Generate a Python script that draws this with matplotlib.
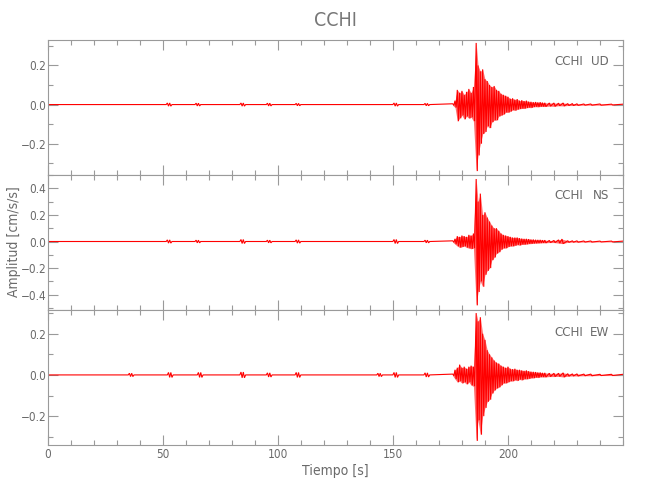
import matplotlib
matplotlib.use("Agg")
import matplotlib.pyplot as plt
from matplotlib.ticker import MultipleLocator, FuncFormatter
import numpy as np

plt.rcParams['font.family'] = ['DejaVu Sans']
plt.rcParams['font.stretch'] = 'condensed'
plt.rcParams['font.weight'] = 'light'

# ---------------- data ----------------
station = "CCHI"
components = ["UD", "NS", "EW"]
x_ticks = [0, 50, 100, 150, 200]
y_limits = [(-0.36, 0.33), (-0.515, 0.50), (-0.34, 0.315)]

# strong-motion part: time [s], positive peak, negative peak
ud_time = [176, 177, 178, 179, 180, 181, 182, 183, 184, 185, 186.2, 187, 188, 189, 190,
           191, 192, 193, 194, 195, 196, 197, 198, 199, 200, 201, 202, 203, 204, 205,
           206, 207, 208, 209, 210, 211, 212, 213, 214, 215, 216, 218, 220, 222, 224,
           226, 228, 230, 233, 236, 240, 245, 250]
ud_pos = [0.004, 0.02, 0.075, 0.06, 0.07, 0.05, 0.065, 0.08, 0.06, 0.09, 0.315, 0.2, 0.17, 0.18, 0.13,
          0.12, 0.1, 0.09, 0.095, 0.075, 0.07, 0.055, 0.05, 0.045, 0.04, 0.03, 0.032, 0.025, 0.028, 0.02,
          0.022, 0.018, 0.02, 0.015, 0.014, 0.012, 0.013, 0.011, 0.012, 0.01, 0.009, 0.008, 0.008, 0.007, 0.008,
          0.005, 0.005, 0.004, 0.003, 0.003, 0.003, 0.002, 0.002]
ud_neg = [-0.004, -0.015, -0.085, -0.07, -0.055, -0.075, -0.06, -0.07, -0.065, -0.085, -0.34, -0.26, -0.2, -0.15, -0.14,
          -0.11, -0.12, -0.09, -0.08, -0.08, -0.06, -0.055, -0.05, -0.04, -0.04, -0.035, -0.028, -0.03, -0.025, -0.022,
          -0.02, -0.02, -0.017, -0.015, -0.016, -0.012, -0.011, -0.012, -0.01, -0.01, -0.01, -0.008, -0.009, -0.006, -0.007,
          -0.005, -0.005, -0.004, -0.003, -0.003, -0.003, -0.002, -0.002]

ns_time = [176, 177, 178, 179, 180, 181, 182, 183, 184, 185, 186.2, 187, 188, 189, 190,
           191, 192, 193, 194, 195, 196, 197, 198, 199, 200, 201, 202, 203, 204, 205,
           206, 207, 208, 209, 210, 211, 212, 213, 214, 215, 216, 218, 220, 222, 223.5,
           226, 228, 230, 233, 236, 240, 245, 250]
ns_pos = [0.005, 0.02, 0.04, 0.035, 0.045, 0.04, 0.035, 0.05, 0.045, 0.06, 0.47, 0.3, 0.36, 0.2, 0.22,
          0.18, 0.15, 0.12, 0.1, 0.1, 0.08, 0.06, 0.05, 0.045, 0.04, 0.035, 0.03, 0.03, 0.03, 0.025,
          0.022, 0.02, 0.02, 0.018, 0.015, 0.015, 0.013, 0.012, 0.012, 0.01, 0.01, 0.008, 0.008, 0.012, 0.018,
          0.006, 0.005, 0.005, 0.004, 0.004, 0.003, 0.003, 0.003]
ns_neg = [-0.005, -0.02, -0.035, -0.045, -0.04, -0.035, -0.045, -0.05, -0.055, -0.05, -0.48, -0.38, -0.3, -0.34, -0.25,
          -0.22, -0.2, -0.14, -0.12, -0.09, -0.08, -0.06, -0.05, -0.05, -0.04, -0.035, -0.035, -0.03, -0.025, -0.028,
          -0.022, -0.022, -0.02, -0.017, -0.016, -0.014, -0.013, -0.012, -0.011, -0.01, -0.01, -0.008, -0.008, -0.012, -0.016,
          -0.006, -0.005, -0.005, -0.004, -0.004, -0.003, -0.003, -0.003]

ew_time = [176, 177, 178, 179, 180, 181, 182, 183, 184, 185, 186.2, 187, 188, 189, 190,
           191, 192, 193, 194, 195, 196, 197, 198, 199, 200, 201, 202, 203, 204, 205,
           206, 207, 208, 209, 210, 211, 212, 213, 214, 215, 216, 218, 220, 222, 224,
           226, 228, 230, 233, 236, 240, 245, 250]
ew_pos = [0.004, 0.025, 0.035, 0.05, 0.035, 0.04, 0.03, 0.04, 0.045, 0.04, 0.30, 0.26, 0.28, 0.2, 0.17,
          0.12, 0.1, 0.085, 0.07, 0.06, 0.055, 0.045, 0.04, 0.035, 0.04, 0.03, 0.028, 0.03, 0.025, 0.025,
          0.022, 0.02, 0.022, 0.018, 0.016, 0.015, 0.014, 0.012, 0.012, 0.01, 0.01, 0.008, 0.008, 0.008, 0.01,
          0.006, 0.005, 0.005, 0.004, 0.004, 0.003, 0.003, 0.003]
ew_neg = [-0.004, -0.02, -0.035, -0.03, -0.04, -0.035, -0.045, -0.035, -0.05, -0.055, -0.32, -0.22, -0.29, -0.2, -0.16,
          -0.13, -0.12, -0.09, -0.075, -0.065, -0.06, -0.05, -0.04, -0.04, -0.035, -0.03, -0.03, -0.025, -0.028, -0.022,
          -0.025, -0.02, -0.02, -0.018, -0.015, -0.015, -0.012, -0.013, -0.01, -0.01, -0.01, -0.008, -0.008, -0.007, -0.01,
          -0.006, -0.005, -0.005, -0.004, -0.004, -0.003, -0.003, -0.003]

# small events in the quiet part: time [s], amplitude
ud_quiet_t = [52.5, 65, 84.5, 96, 108.5, 151, 164.5]
ud_quiet_a = [0.008, 0.007, 0.008, 0.007, 0.006, 0.008, 0.006]
ns_quiet_t = [52.5, 65, 84.5, 96, 108.5, 151, 164.5]
ns_quiet_a = [0.012, 0.01, 0.015, 0.01, 0.012, 0.015, 0.01]
ew_quiet_t = [36, 53, 66, 84.5, 96, 108.5, 144, 151, 164.5]
ew_quiet_a = [0.008, 0.012, 0.012, 0.014, 0.01, 0.012, 0.008, 0.012, 0.01]

series = [
    (ud_time, ud_pos, ud_neg, ud_quiet_t, ud_quiet_a),
    (ns_time, ns_pos, ns_neg, ns_quiet_t, ns_quiet_a),
    (ew_time, ew_pos, ew_neg, ew_quiet_t, ew_quiet_a),
]


def build_trace(t_list, pos, neg, qt, qa):
    ts, vs = [0.0], [0.0]
    for t, a in zip(qt, qa):
        ts += [t - 1.0, t - 0.5, t, t + 0.5, t + 1.0, t + 1.5]
        vs += [0.0, a, -a, a, -a, 0.0]
    for t, p, n in zip(t_list, pos, neg):
        ts += [t, t + 0.5]
        vs += [p, n]
    return np.array(ts), np.array(vs)


def fmt(v, _):
    s = '%.1f' % v
    if s == '-0.0':
        s = '0.0'
    return s.replace('-', '\u2212')


# ---------------- figure ----------------
W, H = 650, 500
fig = plt.figure(figsize=(W / 100, H / 100), dpi=100)

axis_col = '#9a9a9a'
text_col = '#6a6a6a'
left = 47.7 / W
width = (623 - 47.7) / W
tops = [40, 175, 310]
ph = 135
label_y = [0.84, 0.848, 0.837]

for i, (comp, dat, yl) in enumerate(zip(components, series, y_limits)):
    bottom = 1 - (tops[i] + ph) / H
    ax = fig.add_axes([left, bottom, width, ph / H])
    t_list, pos, neg = dat[0], dat[1], dat[2]
    ax.fill_between(t_list, neg, pos, color='#ff7070', lw=0, zorder=1)
    t, v = build_trace(*dat)
    ax.plot(t, v, color='#ff0000', lw=0.8, solid_joinstyle='miter', zorder=2)
    ax.set_xlim(0, 250)
    ax.set_ylim(*yl)
    ax.xaxis.set_major_locator(MultipleLocator(50))
    ax.xaxis.set_minor_locator(MultipleLocator(10))
    ax.yaxis.set_major_locator(MultipleLocator(0.2))
    ax.yaxis.set_minor_locator(MultipleLocator(0.1))
    ax.yaxis.set_major_formatter(FuncFormatter(fmt))
    for s in ax.spines.values():
        s.set_color(axis_col)
        s.set_linewidth(0.8)
    ax.tick_params(which='both', direction='in', top=True, right=True,
                   color=axis_col, width=0.8, labelcolor=text_col, labelsize=8.5)
    ax.tick_params(which='major', length=7)
    ax.tick_params(which='minor', length=3.6)
    ax.tick_params(axis='y', pad=1.0)
    ax.tick_params(axis='x', pad=2.5)
    if i < 2:
        ax.tick_params(axis='x', labelbottom=False)
    else:
        ax.set_xticks(x_ticks)
    ax.text(0.9305, label_y[i], station, transform=ax.transAxes, ha='right', va='center',
            fontsize=9.5, color=text_col)
    ax.text(0.9757, label_y[i], comp, transform=ax.transAxes, ha='right', va='center',
            fontsize=9.5, color=text_col)

fig.text(335 / W, 1 - 20 / H, station, ha='center', va='center', fontsize=14, color='#777777')
fig.text(14 / W, 1 - 242 / H, 'Amplitud [cm/s/s]', rotation=90, ha='center', va='center',
         fontsize=10, color=text_col)
fig.text(335 / W, 1 - 471 / H, 'Tiempo [s]', ha='center', va='center', fontsize=10, color=text_col)

fig.savefig('out.png', dpi=100)
